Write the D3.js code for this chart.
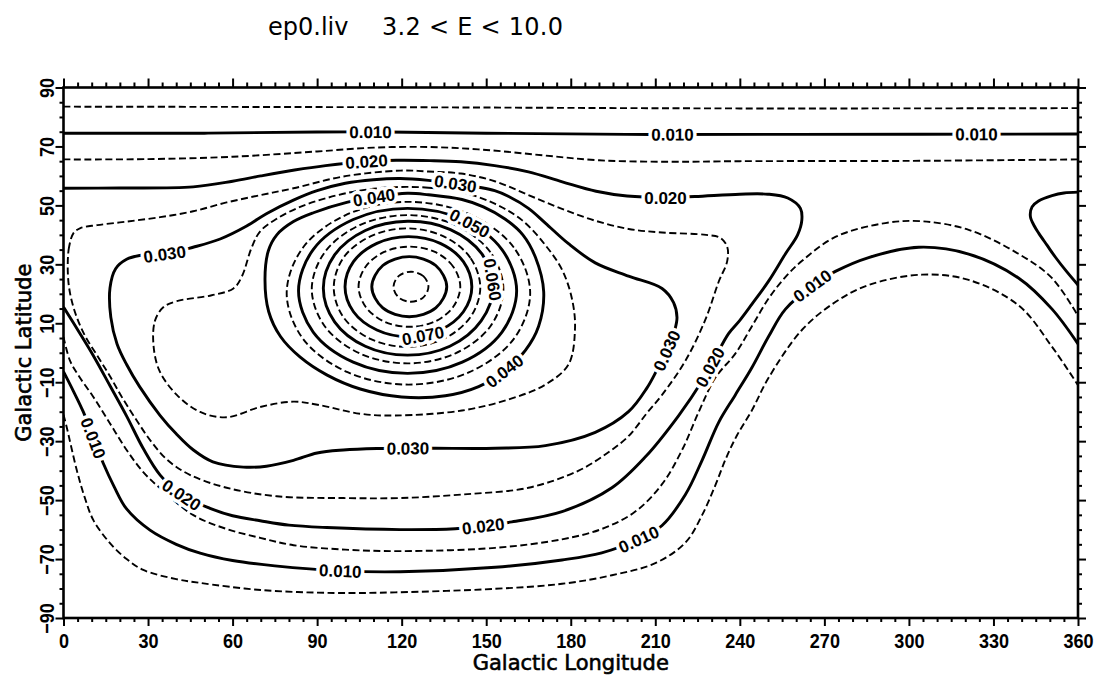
<!DOCTYPE html>
<html>
<head>
<meta charset="utf-8">
<script src="https://cdn.jsdelivr.net/npm/d3@7"></script>
<style>
  html, body { margin: 0; padding: 0; background: #fff; }
  svg { display: block; }
</style>
</head>
<body>
<svg id="chart" width="1095" height="679"></svg>
<script>
// ---- Axis ticks ----
const lonTicks = [0, 30, 60, 90, 120, 150, 180, 210, 240, 270, 300, 330, 360];
const latTicks = [90, 70, 50, 30, 10, -10, -30, -50, -70, -90];

// ---- Contour lines, as [longitude, latitude] pairs ----
// level 0.005
const c005North = [[0,83.5],[120,83.3],[240,82.9],[360,83.0]];
const c005South = [[0,-21],[1.1,-25.1],[4.7,-39.8],[7.5,-49],[10.6,-56.8],[16.5,-64.6],[22.4,-70],[28.3,-73.7],[40,-76.8],[48.5,-78.1],[70,-80.5],[96,-81.5],[117.7,-81.3],[153.2,-80.1],[176.9,-78.4],[194.6,-75.5],[210,-71.4],[220.7,-64.4],[226.6,-55.1],[231.3,-45],[235,-36],[239,-28],[244.3,-19.5],[250.2,-8.5],[262.1,7.8],[273.9,17.2],[285.7,23],[304.7,26.5],[321.2,24.7],[339,16],[350.8,2],[360,-11]];
// level 0.010
const c010North = [[0,74.5],[50,74.5],[90,74.9],[115,74.9],[150,74.5],[200,74.1],[260,74.1],[360,74.2]];
const c010South = [[0,-6.4],[3.5,-13],[7,-20],[10.6,-29],[14.1,-37.5],[18,-45.5],[22.4,-53],[30.7,-60.2],[40,-65],[48.5,-68],[60,-70.5],[75,-72.3],[98.2,-74],[119.5,-74.3],[153.2,-72.8],[176.9,-70.3],[191,-67.9],[204.1,-63.3],[212.4,-58.6],[220.7,-48.1],[226.6,-36.5],[232.5,-23.6],[238.4,-14.3],[244.3,-5],[250.2,5.5],[256.2,14.8],[266.8,23.5],[273.9,27.6],[285.7,32.3],[303.5,35.8],[321.2,33.5],[339,25.3],[350.8,14.8],[360,3]];
// level 0.015
const c015North = [[0,65.6],[30,65.7],[60,66.5],[90,68.3],[110,69.6],[130,69.8],[150,68.8],[170,67],[190,65.3],[215,64.8],[240,65],[300,65.1],[360,65.6]];
const c015South = [[0,5.4],[2.3,-2.7],[5.5,-8],[10.6,-15],[16.5,-24],[22.4,-33],[28.3,-40.5],[34.3,-46],[46.1,-55.1],[57.9,-59.8],[69.8,-62.8],[81.6,-65.3],[100,-66.8],[119.5,-67.3],[153.2,-66.2],[176.9,-63.3],[191,-59.8],[202.9,-53.9],[212.4,-44.6],[219.5,-33],[225.4,-20.1],[231.3,-8.5],[238.4,-0.3],[244.3,9],[250.2,18.4],[256,25.5],[262.1,31.2],[273.9,39.3],[291.6,44],[304.7,44.6],[321.2,41.7],[339,33.5],[350.8,25.3],[360,12.5]];
// level 0.020
const c020Main = [[0,55.8],[20,55.9],[46,56.3],[60,58.2],[70,60],[82,62],[93,63.5],[107.6,64.9],[118,65.3],[130,65.2],[141,64.8],[153,63.5],[165,61.4],[177,58],[189,54.8],[200,53.2],[213.6,52.7],[224,53],[240,53.8],[250,53.8],[257,52.5],[261.5,49],[262,45],[260.5,40],[256.2,33.6],[250.2,24.3],[244.3,16.5],[240,11],[236,6.5],[231.3,-1.5],[226.6,-9.6],[218.3,-21.3],[206.5,-35.3],[194.6,-45.8],[176.9,-53.9],[159.1,-57.4],[149,-58.8],[139,-59.7],[119.5,-60],[93.4,-59.3],[80,-58.5],[69.8,-57],[60,-55.3],[52,-52.8],[42,-48.3],[34.3,-41.5],[28.3,-32.5],[22.4,-21.5],[16.5,-11.2],[10.6,-1],[4.7,8.3],[0,15.5]];
const c020East = [[360,54.5],[355,54.2],[350.8,53.3],[346,51.5],[343.7,49.5],[343.1,46.3],[344.5,43],[346.1,40.5],[349,36.5],[352,32.4],[356,27.5],[360,23]];
// level 0.025
const c025 = [[3.5,40.5],[2,36],[1.5,30],[2,22],[4,14],[7.5,6],[12,-1],[16.5,-8],[21,-15.5],[26,-23],[31,-30],[37,-36.5],[45,-41.5],[57.9,-45.8],[75.7,-48.7],[99.3,-49.3],[119.5,-49.3],[141.4,-48.1],[165,-45.8],[182.8,-40],[193,-34],[200.5,-28.3],[207,-20.5],[212.4,-14.3],[220.7,-2.7],[227.8,11.3],[232.5,24.1],[235.5,31],[235.5,36],[233,39],[228,40],[212.4,40.8],[200.5,42],[188.7,44.8],[176.9,48.8],[165,53.5],[153,58.2],[141,60.8],[129.5,61.5],[119.5,61.8],[99.3,59.8],[81.6,55.8],[70,53.5],[57.9,51],[46,48],[34.3,46],[22.4,44.5],[12,43.3],[6,42.3]];
// level 0.030
const c030 = [[27,33],[22.4,31.7],[18.5,28.5],[16.5,22],[16.8,12],[19,3],[22.4,-4],[27,-11.5],[34.3,-21.3],[40,-27.5],[46.1,-33],[53,-37],[63.8,-38.8],[72,-38.5],[81.6,-36.5],[90,-34],[99.3,-33],[111.2,-32.5],[122.4,-32.4],[132,-32.4],[153.2,-32.4],[171,-31.5],[188.7,-27],[200.5,-20],[207,-12],[210.5,-6],[214.1,0.8],[217,8],[217.7,12],[216.5,17],[212.4,21.8],[200.5,26],[188.7,30.5],[179.2,37],[171,44],[165,49],[158,53],[153,55],[139,57.4],[129.5,58.5],[119.5,59.1],[110,58.7],[100,57.5],[90,55],[81.6,51.8],[72,47.2],[65,43],[55.6,38.6],[46,35.8],[36,33.5]];
// level 0.035
const c035 = [[117.7,56.2],[129.5,56],[141.4,54.5],[153.2,50.5],[162.7,45],[171,36.5],[177,28],[180.5,18],[181.5,8],[179.2,-4],[171,-10.8],[159.1,-15.5],[141.4,-19.6],[117.7,-21.3],[105.3,-20.7],[91,-17.8],[81.6,-16.6],[69.8,-18.4],[57.9,-21.9],[48.5,-20.1],[40.2,-14.3],[34,-6],[31.9,3],[32.5,11],[35.5,15.5],[40.2,17.5],[52.6,19.5],[60.3,21.8],[63.3,25.9],[66.8,35.8],[69.8,41.2],[75.7,45.5],[84,49.5],[93.4,52.5],[105,55]];
// level 0.040
const c040 = [[122,54.1],[129.5,53.6],[141.4,52],[149,49.5],[156.8,45.3],[163,40],[167.5,32.3],[170.4,20.7],[168.6,9],[163.9,0.8],[156.8,-6],[147.3,-11.5],[135.5,-14.6],[120,-15],[105.3,-12.3],[93.4,-7.5],[84,-1.5],[77,5.5],[72.8,14],[71.5,25],[72.7,34.6],[75.7,40],[81.6,44.5],[88.7,47.5],[100.5,51],[110,52.7]];
// levels 0.045 - 0.085, the rings round the maximum
const c045 = [[165.6,20.2],[159.8,35.7],[144.0,47.0],[122.4,51.2],[100.8,47.0],[85.0,35.7],[79.2,20.2],[85.0,4.7],[100.8,-6.6],[122.4,-10.8],[144.0,-6.6],[159.8,4.7]];
const c050 = [[160.8,21],[155.6,35],[141.5,45.2],[122.1,49],[102.8,45.2],[88.6,35],[83.4,21],[88.6,7],[102.8,-3.2],[122.1,-7],[141.5,-3.2],[155.6,7]];
const c055 = [[156.1,21.6],[151.5,34.1],[139.1,43.3],[122.1,46.7],[105.1,43.3],[92.7,34.1],[88.1,21.6],[92.7,9],[105.1,-0.2],[122.1,-3.6],[139.1,-0.2],[151.5,9]];
const c060 = [[152.5,22.5],[148.4,33.6],[137.3,41.8],[122.1,44.6],[107.1,41.5],[96.2,33.2],[92.2,21.9],[96.2,10.5],[107.1,2.2],[122.1,-0.8],[137.1,2.2],[148.2,10.8]];
const c065 = [[147.9,22.1],[144.4,32.2],[134.9,39.5],[121.9,42.2],[108.9,39.5],[99.3,32.2],[95.9,22.1],[99.3,12.1],[108.9,4.7],[121.9,2],[134.9,4.7],[144.4,12.1]];
const c070 = [[144.9,22.4],[141.9,30.9],[133.7,37.1],[122.4,39.4],[111.2,37.1],[102.9,30.9],[99.9,22.4],[102.9,13.9],[111.2,7.7],[122.4,5.4],[133.7,7.7],[141.9,13.9]];
const c075 = [[140.8,22.4],[138.3,29.2],[131.8,34.2],[122.8,36],[113.8,34.2],[107.2,29.2],[104.7,22.4],[107.2,15.6],[113.8,10.6],[122.8,8.8],[131.8,10.6],[138.3,15.6]];
const c080 = [[136,22.4],[132.1,29.6],[122.7,32.6],[113.3,29.6],[109.4,22.4],[113.3,15.2],[122.7,12.2],[132.1,15.2]];
const c085 = [[129.5,22.4],[127.7,26],[123.3,27.5],[118.9,26],[117.1,22.4],[118.9,18.8],[123.3,17.3],[127.7,18.8]];

// Which level each line belongs to, and whether it is a closed ring
const contourLines = [
  [0.005, c005North, false], [0.005, c005South, false],
  [0.010, c010North, false], [0.010, c010South, false],
  [0.015, c015North, false], [0.015, c015South, false],
  [0.020, c020Main, false],  [0.020, c020East, false],
  [0.025, c025, true], [0.030, c030, true], [0.035, c035, true], [0.040, c040, true],
  [0.045, c045, true], [0.050, c050, true], [0.055, c055, true], [0.060, c060, true],
  [0.065, c065, true], [0.070, c070, true], [0.075, c075, true], [0.080, c080, true],
  [0.085, c085, true]
];

// In-line labels: level, longitude, latitude
const contourLabels = [
  [0.010, 108.8, 74.9], [0.010, 216, 74.1], [0.010, 324, 74.2],
  [0.020, 107.6, 64.9], [0.020, 213.6, 52.7],
  [0.030, 36, 33.5], [0.030, 139, 57.4], [0.040, 110, 52.7],
  [0.050, 144.3, 44], [0.060, 152.5, 25], [0.070, 127.6, 5.6],
  [0.040, 156.5, -6.5], [0.030, 214.1, 0.8], [0.020, 229.3, -5],
  [0.030, 122.4, -32.4], [0.020, 149, -58.8], [0.010, 98.2, -74],
  [0.010, 204.1, -63.3], [0.010, 10.6, -29], [0.020, 42, -48.3],
  [0.010, 266, 22.5]
];

// ---- Layout ----
const svg = d3.select("#chart");
const x = d3.scaleLinear().domain([0, 360]).range([63.5, 1078]);
const y = d3.scaleLinear().domain([-90, 90]).range([618, 87.5]);
const fmt = d3.format(".3f");
const isHalfStep = lv => Math.round(lv * 1000) % 10 !== 0;

svg.append("rect").attr("width", 1095).attr("height", 679).attr("fill", "#fff");

svg.append("defs").append("clipPath").attr("id", "plotClip")
  .append("rect")
  .attr("x", x(0)).attr("y", y(90))
  .attr("width", x(360) - x(0)).attr("height", y(-90) - y(90));

// ---- Contours ----
const gLines = svg.append("g").attr("clip-path", "url(#plotClip)");
const openLine = d3.line().x(d => x(d[0])).y(d => y(d[1])).curve(d3.curveCatmullRom.alpha(0.5));
const ringLine = d3.line().x(d => x(d[0])).y(d => y(d[1])).curve(d3.curveCatmullRomClosed.alpha(0.5));

const pathNodes = contourLines.map(([lv, pts, closed]) => {
  const p = gLines.append("path")
    .attr("d", closed ? ringLine(pts) : openLine(pts))
    .attr("fill", "none")
    .attr("stroke", "#000")
    .attr("stroke-linejoin", "round")
    .attr("stroke-width", isHalfStep(lv) ? 1.9 : 2.9)
    .attr("stroke-dasharray", isHalfStep(lv) ? "7,3.5" : null);
  return { level: lv, node: p.node() };
});

// Labels sit on their line and follow its direction
const gLabels = svg.append("g");
contourLabels.forEach(([lv, lon, lat]) => {
  const px = x(lon), py = y(lat);
  let best = null;
  pathNodes.filter(p => Math.abs(p.level - lv) < 1e-6).forEach(p => {
    const len = p.node.getTotalLength();
    for (let s = 0; s <= len; s += 1) {
      const pt = p.node.getPointAtLength(s);
      const d = (pt.x - px) ** 2 + (pt.y - py) ** 2;
      if (!best || d < best.d) best = { d, s, len, node: p.node, pt };
    }
  });
  const a = best.node.getPointAtLength(Math.max(0, best.s - 8));
  const b = best.node.getPointAtLength(Math.min(best.len, best.s + 8));
  let ang = Math.atan2(b.y - a.y, b.x - a.x) * 180 / Math.PI;
  if (ang > 100) ang -= 180;
  if (ang <= -80) ang += 180;
  gLabels.append("text")
    .attr("transform", `translate(${best.pt.x},${best.pt.y}) rotate(${ang})`)
    .attr("text-anchor", "middle")
    .attr("dy", "0.36em")
    .attr("font-family", "'Liberation Sans', Arial, sans-serif")
    .attr("font-weight", "bold")
    .attr("font-size", 17)
    .attr("fill", "#000")
    .attr("stroke", "#fff")
    .attr("stroke-width", 7)
    .attr("stroke-linejoin", "round")
    .attr("paint-order", "stroke")
    .text(fmt(lv));
});

// ---- Axes ----
const minorLon = d3.range(0, 361, 5).filter(v => v % 30 !== 0);
const minorLat = d3.range(-90, 91, 5).filter(v => (v + 90) % 20 !== 0);
const tickFont = "'Liberation Sans', Arial, sans-serif";

function addAxis(gen, tx, ty) {
  const g = svg.append("g").attr("transform", `translate(${tx},${ty})`).call(gen);
  g.select(".domain").remove();
  g.selectAll(".tick line").attr("stroke", "#000").attr("stroke-width", 2);
  return g;
}

// bottom
addAxis(d3.axisBottom(x).tickValues(minorLon).tickSize(4).tickFormat(""), 0, y(-90));
const gb = addAxis(d3.axisBottom(x).tickValues(lonTicks).tickSize(8).tickFormat(d3.format("d")), 0, y(-90));
gb.selectAll("text")
  .attr("y", 30).attr("dy", null)
  .attr("transform", "scale(0.86,1)")
  .attr("font-family", tickFont).attr("font-weight", "bold").attr("font-size", 21).attr("fill", "#000");
// top
addAxis(d3.axisTop(x).tickValues(minorLon).tickSize(5).tickFormat(""), 0, y(90));
addAxis(d3.axisTop(x).tickValues(lonTicks).tickSize(9).tickFormat(""), 0, y(90));
// left
addAxis(d3.axisLeft(y).tickValues(minorLat).tickSize(4).tickFormat(""), x(0), 0);
const gl = addAxis(d3.axisLeft(y).tickValues(latTicks).tickSize(8).tickFormat(d3.format("d")), x(0), 0);
gl.selectAll("text")
  .attr("x", null).attr("dy", null)
  .attr("text-anchor", "middle")
  .attr("transform", "translate(-9.5,0) rotate(-90) scale(0.86,1)")
  .attr("font-family", tickFont).attr("font-weight", "bold").attr("font-size", 21).attr("fill", "#000")
  .text(d => d < 0 ? "\u2212" + Math.abs(d) : d);
// right
addAxis(d3.axisRight(y).tickValues(minorLat).tickSize(4).tickFormat(""), x(360), 0);
addAxis(d3.axisRight(y).tickValues(latTicks).tickSize(8).tickFormat(""), x(360), 0);

// frame
svg.append("rect")
  .attr("x", x(0)).attr("y", y(90))
  .attr("width", x(360) - x(0)).attr("height", y(-90) - y(90))
  .attr("fill", "none").attr("stroke", "#000").attr("stroke-width", 2.6);

// ---- Titles ----
const titleFont = "'DejaVu Sans', sans-serif";
svg.append("text").attr("x", 268).attr("y", 35)
  .attr("font-family", titleFont).attr("font-size", 24).attr("fill", "#000")
  .text("ep0.liv");
svg.append("text").attr("x", 382).attr("y", 35)
  .attr("font-family", titleFont).attr("font-size", 24).attr("fill", "#000")
  .attr("textLength", 181).attr("lengthAdjust", "spacing")
  .text("3.2 < E < 10.0");

svg.append("text")
  .attr("x", (x(0) + x(360)) / 2).attr("y", 670)
  .attr("text-anchor", "middle")
  .attr("font-family", titleFont).attr("font-size", 21).attr("fill", "#000")
  .attr("stroke", "#000").attr("stroke-width", 0.6)
  .text("Galactic Longitude");

svg.append("text")
  .attr("transform", `translate(31,${(y(90) + y(-90)) / 2}) rotate(-90)`)
  .attr("text-anchor", "middle")
  .attr("font-family", titleFont).attr("font-size", 21).attr("fill", "#000")
  .attr("stroke", "#000").attr("stroke-width", 0.6)
  .text("Galactic Latitude");
</script>
</body>
</html>
